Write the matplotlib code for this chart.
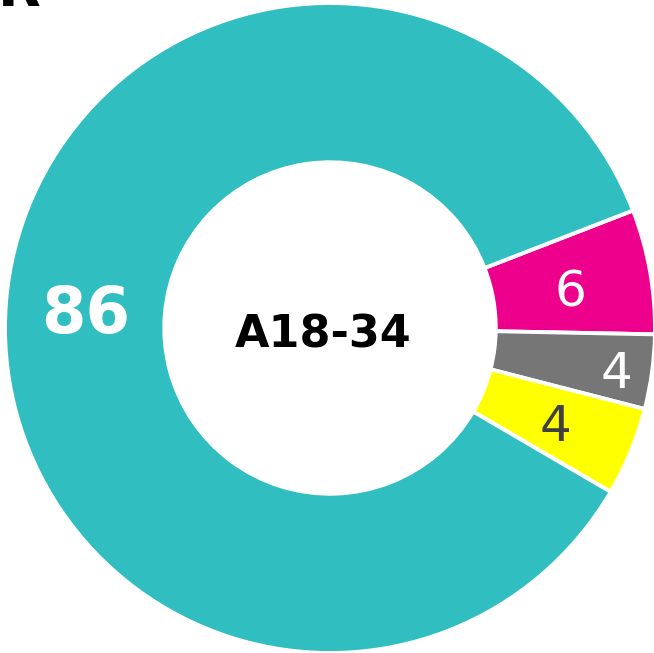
import matplotlib.pyplot as plt
import numpy as np

# data (slice sizes, labels as printed)
labels = ['6', '4', '4', '86']
values = [6.2, 3.7, 4.4, 85.7]
colors = ['#EC008C', '#767676', '#FFFF00', '#31BEC1']
text_colors = ['white', 'white', '#404040', 'white']
center_label = 'A18-34'

fig = plt.figure(figsize=(6.54, 6.53), dpi=100)
ax = fig.add_axes([5 / 654, 0.0, 650 / 654, 650 / 653])

wedges, _ = ax.pie(values, colors=colors, startangle=21.2, counterclock=False,
                   radius=1.0, wedgeprops=dict(width=0.49, edgecolor='white', linewidth=2.8))
ax.set_xlim(-1, 1)
ax.set_ylim(-1, 1)
ax.set_aspect('equal')
ax.axis('off')

# label radius per slice
label_r = [0.75, 0.89, 0.75, 0.755]
for w, lab, tc, r in zip(wedges, labels, text_colors, label_r):
    ang = np.deg2rad((w.theta1 + w.theta2) / 2)
    x, y = r * np.cos(ang), r * np.sin(ang) - 0.02
    if lab == '86':
        ax.text(x, y, lab, ha='center', va='center',
                color=tc, fontsize=46, fontweight='bold')
    else:
        ax.text(x, y, lab, ha='center', va='center',
                color=tc, fontsize=36)

ax.text(-0.02, -0.02, center_label, ha='center', va='center', fontsize=32, fontweight='bold')

# title cut off at the top edge
fig.text(-0.004, 1 - 5 / 653, 'R', fontsize=40, fontweight='bold', va='baseline', ha='left')

fig.savefig('out.png', dpi=100)
